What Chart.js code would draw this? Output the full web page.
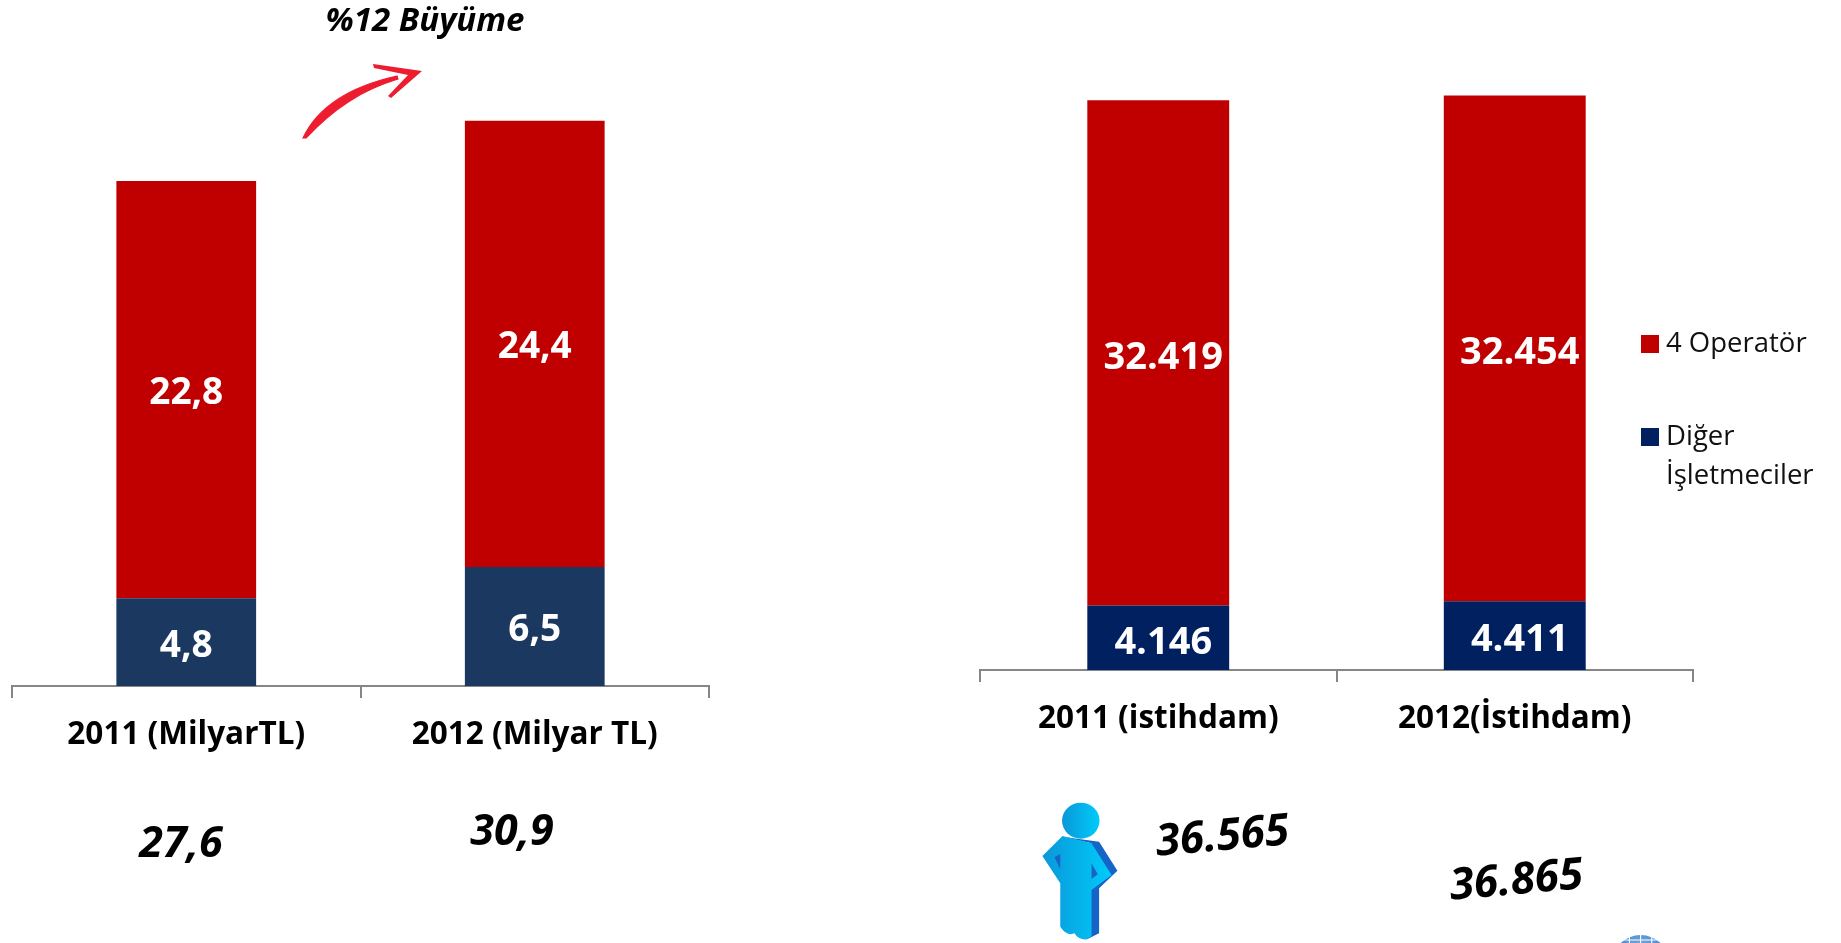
<!DOCTYPE html>
<html lang="tr"><head><meta charset="utf-8">
<script src="https://cdn.jsdelivr.net/npm/chart.js@4"></script>
<style>
html,body{margin:0;padding:0;background:#fff;width:1841px;height:943px;overflow:hidden;font-family:"Open Sans",sans-serif}
canvas{position:absolute;top:0}
#art{position:absolute;left:0;top:0}
.note{position:absolute;font-weight:700;font-style:italic;color:#000;white-space:nowrap;transform:translate(-50%,-50%)}
</style></head><body>
<canvas id="left" width="760" height="943" style="left:0"></canvas>
<canvas id="right" width="901" height="943" style="left:940px"></canvas>
<svg id="art" width="1841" height="943" viewBox="0 0 1841 943">
  <defs>
    <linearGradient id="skin" x1="0" x2="1" y1="0" y2="0"><stop offset="0" stop-color="#0A97D9"/><stop offset="1" stop-color="#00CBFA"/></linearGradient>
    <radialGradient id="globe" cx=".5" cy=".3" r=".7"><stop offset="0" stop-color="#7FB2E5"/><stop offset="1" stop-color="#2A6FC0"/></radialGradient>
  </defs>
  <path d="M303 138 C318 106 352 86 397 76 L398 79 C362 90 334 108 306 138 Z" fill="#ED1C2E" stroke="#ED1C2E" stroke-width="1.2"/>
  <path d="M373 64 L422 71 L391 98 L388 96 L408 75 L374 68 Z" fill="#ED1C2E"/>
  <g transform="translate(1000 780) scale(.4464 .3333)">
    <path d="M140 170 L222 185 L263 272 L222 325 L222 460 L195 478 L180 330 L205 190 Z" fill="#1565C8"/>
    <path d="M140 168 L95 228 L135 310 L135 440 Q150 470 167 460 Q175 480 195 478 L205 468 L205 330 L250 285 L205 190 Z" fill="url(#skin)"/>
    <path d="M122 232 L135 222 L135 268 Z M205 250 L219 283 L205 297 Z" fill="#1565C8"/>
    <ellipse cx="181" cy="122" rx="42" ry="54" fill="url(#skin)"/>
    <ellipse cx="1435" cy="550" rx="64" ry="85" fill="url(#globe)"/>
    <path d="M1385 480 H1485 M1375 492 H1495 M1435 465 V520 M1410 470 V520 M1460 470 V520" stroke="#fff" stroke-width="2.5" fill="none"/>
  </g>
</svg>
<script>
const leftCategories = ["2011 (MilyarTL)", "2012 (Milyar TL)"];
const leftOperators = [22.8, 24.4];
const leftOthers = [4.8, 6.5];
const leftTotals = ["27,6", "30,9"];

const rightCategories = ["2011 (istihdam)", "2012(İstihdam)"];
const rightOperators = [32419, 32454];
const rightOthers = [4146, 4411];
const rightTotals = ["36.565", "36.865"];

const growthLabel = "%12 Büyüme";
const legendNames = ["4 Operatör", ["Diğer", "İşletmeciler"]];
const seriesNames = ["Diğer İşletmeciler", "4 Operatör"];

const RED = "#C00000", NAVY_L = "#1A3860", NAVY_R = "#002060", AXIS = "#868686";
const FONT = '"Open Sans", sans-serif';

const barLabels = (fmt, size, dx, dy) => ({
  id: "barLabels",
  afterDatasetsDraw(chart) {
    const c = chart.ctx;
    c.save();
    c.fillStyle = "#fff";
    c.font = `700 ${size}px ${FONT}`;
    c.textAlign = "center";
    c.textBaseline = "middle";
    chart.data.datasets.forEach((ds, i) => {
      chart.getDatasetMeta(i).data.forEach((bar, j) => {
        c.fillText(fmt(ds.data[j]), bar.x + dx, (bar.y + bar.base) / 2 + dy);
      });
    });
    c.restore();
  }
});

const legendPlugin = {
  id: "sideLegend",
  afterDraw(chart) {
    const c = chart.ctx;
    c.save();
    c.font = `400 27.5px ${FONT}`;
    c.textBaseline = "alphabetic";
    const rows = [[RED, 395, 394, legendNames[0]], [NAVY_R, 488, 487, legendNames[1]]];
    rows.forEach(([col, base, textBase, name]) => {
      c.fillStyle = col;
      c.fillRect(701, base - 60, 18, 18);
      c.fillStyle = "#111";
      [].concat(name).forEach((t, k) => c.fillText(t, 726, textBase - 42 + k * 39));
    });
    c.restore();
  }
};

function build(id, cats, others, ops, navy, max, pad, barPct, tickPad, fmt, size, dx, dy, extra) {
  new Chart(document.getElementById(id), {
    type: "bar",
    data: {
      labels: cats,
      datasets: [
        { label: seriesNames[0], data: others, backgroundColor: navy, barPercentage: barPct, categoryPercentage: 1 },
        { label: seriesNames[1], data: ops, backgroundColor: RED, barPercentage: barPct, categoryPercentage: 1 }
      ]
    },
    options: {
      responsive: false,
      animation: false,
      layout: { padding: pad },
      plugins: { legend: { display: false }, tooltip: { enabled: false } },
      scales: {
        y: { display: false, stacked: true, min: 0, max: max },
        x: {
          stacked: true,
          afterFit(s) { s.height = 943 - pad.bottomLine; },
          border: { color: AXIS, width: 2 },
          grid: { color: AXIS, lineWidth: 2, drawOnChartArea: false, drawTicks: true, tickLength: 12, offset: true },
          ticks: { color: "#000", autoSkip: false, maxRotation: 0, padding: tickPad, font: { family: FONT, weight: "700", size: 31.5 } }
        }
      }
    },
    plugins: [barLabels(fmt, size, dx, dy)].concat(extra)
  });
}

const comma = v => v.toFixed(1).replace(".", ",");
const dotted = v => String(v).replace(/(\d)(\d{3})$/, "$1.$2");

build("left", leftCategories, leftOthers, leftOperators, NAVY_L, 37.5,
  { left: 12, right: 51, top: 0, bottom: 0, bottomLine: 686 }, 0.401, 18, comma, 37, 0, 4, []);
build("right", rightCategories, rightOthers, rightOperators, NAVY_R, 43000,
  { left: 40, right: 148, top: 0, bottom: 0, bottomLine: 670 }, 0.398, 18, dotted, 38, 5, 5, [legendPlugin]);

const notes = [
  [growthLabel, 425, 18, 33, 0],
  [leftTotals[0], 181, 840, 43, 0],
  [leftTotals[1], 512, 828, 43, 0],
  [rightTotals[0], 1222, 833, 44, -5],
  [rightTotals[1], 1516, 877, 44, -5]
];
notes.forEach(([t, x, y, s, r]) => {
  const d = document.createElement("div");
  d.className = "note";
  d.textContent = t;
  d.style.left = x + "px";
  d.style.top = y + "px";
  d.style.fontSize = s + "px";
  d.style.transform = `translate(-50%,-50%) rotate(${r}deg)`;
  document.body.appendChild(d);
});
</script>
</body></html>
